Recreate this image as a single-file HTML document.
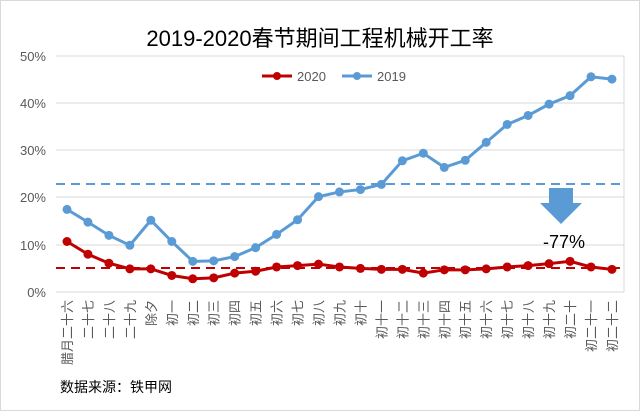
<!DOCTYPE html><html><head><meta charset="utf-8"><style>body{margin:0;background:#fff}</style></head><body>
<svg width="640" height="411" xmlns="http://www.w3.org/2000/svg" font-family="Liberation Sans, Noto Sans CJK SC, sans-serif">
<rect x="0.5" y="0.5" width="639" height="410" fill="#fff" stroke="#d9d9d9"/>
<text x="320" y="46" font-size="22" text-anchor="middle" fill="#000">2019-2020春节期间工程机械开工率</text>
<g stroke="#d9d9d9" stroke-width="1">
<line x1="56" y1="56" x2="624" y2="56"/><line x1="56" y1="103" x2="624" y2="103"/><line x1="56" y1="150" x2="624" y2="150"/><line x1="56" y1="197" x2="624" y2="197"/><line x1="56" y1="245" x2="624" y2="245"/><line x1="56" y1="292" x2="624" y2="292"/><line x1="624" y1="56" x2="624" y2="292"/>
</g>
<g font-size="13" fill="#595959" text-anchor="end">
<text x="46" y="61">50%</text><text x="46" y="108">40%</text><text x="46" y="155">30%</text><text x="46" y="202">20%</text><text x="46" y="250">10%</text><text x="46" y="297">0%</text>
</g>
<line x1="56" y1="184" x2="624" y2="184" stroke="#5b9bd5" stroke-width="2" stroke-dasharray="9,6"/>
<line x1="56" y1="268" x2="624" y2="268" stroke="#c00000" stroke-width="2" stroke-dasharray="9,6"/>
<g id="c"></g>
<polygon points="549,188 573,188 573,203 582,203 561,224 540,203 549,203" fill="#5b9bd5"/>
<text x="564" y="248" font-size="18" text-anchor="middle" fill="#000">-77%</text>
<line x1="262" y1="76" x2="292" y2="76" stroke="#c00000" stroke-width="3"/><circle cx="277" cy="76" r="4" fill="#c00000"/>
<text x="297" y="81" font-size="13" fill="#595959">2020</text>
<line x1="342" y1="76" x2="372" y2="76" stroke="#5b9bd5" stroke-width="3"/><circle cx="357" cy="76" r="4" fill="#5b9bd5"/>
<text x="377" y="81" font-size="13" fill="#595959">2019</text>
<text x="60" y="392" font-size="14" fill="#000">数据来源：铁甲网</text>
</svg>
<script>
var a=[17.5,14.8,12,9.9,15.2,10.7,6.5,6.6,7.5,9.4,12.2,15.3,20.2,21.2,21.7,22.8,27.8,29.4,26.4,27.9,31.7,35.5,37.4,39.8,41.6,45.6,45.1];
var b=[10.7,8,6.1,4.9,4.9,3.5,2.8,3,4,4.4,5.3,5.6,5.9,5.3,5,4.8,4.8,4,4.7,4.7,4.9,5.3,5.6,6,6.5,5.3,4.8];
var L=["腊月二十六","二十七","二十八","二十九","除夕","初一","初二","初三","初四","初五","初六","初七","初八","初九","初十","初十一","初十二","初十三","初十四","初十五","初十六","初十七","初十八","初十九","初二十","初二十一","初二十二"];
var g=document.getElementById('c'),s='';
function X(i){return 67+i*20.96}function Y(v){return 292-v*4.72}
[[a,'#5b9bd5'],[b,'#c00000']].forEach(function(p){var d=p[0].map(function(v,i){return X(i)+','+Y(v)}).join(' ');
s+='<polyline points="'+d+'" fill="none" stroke="'+p[1]+'" stroke-width="3"/>';
p[0].forEach(function(v,i){s+='<circle cx="'+X(i)+'" cy="'+Y(v)+'" r="4.5" fill="'+p[1]+'"/>'});});
L.forEach(function(t,i){s+='<text transform="translate('+(X(i)+5)+',300) rotate(-90)" font-size="13" fill="#595959" text-anchor="end">'+t+'</text>'});
g.innerHTML=s;
</script>
</body></html>
